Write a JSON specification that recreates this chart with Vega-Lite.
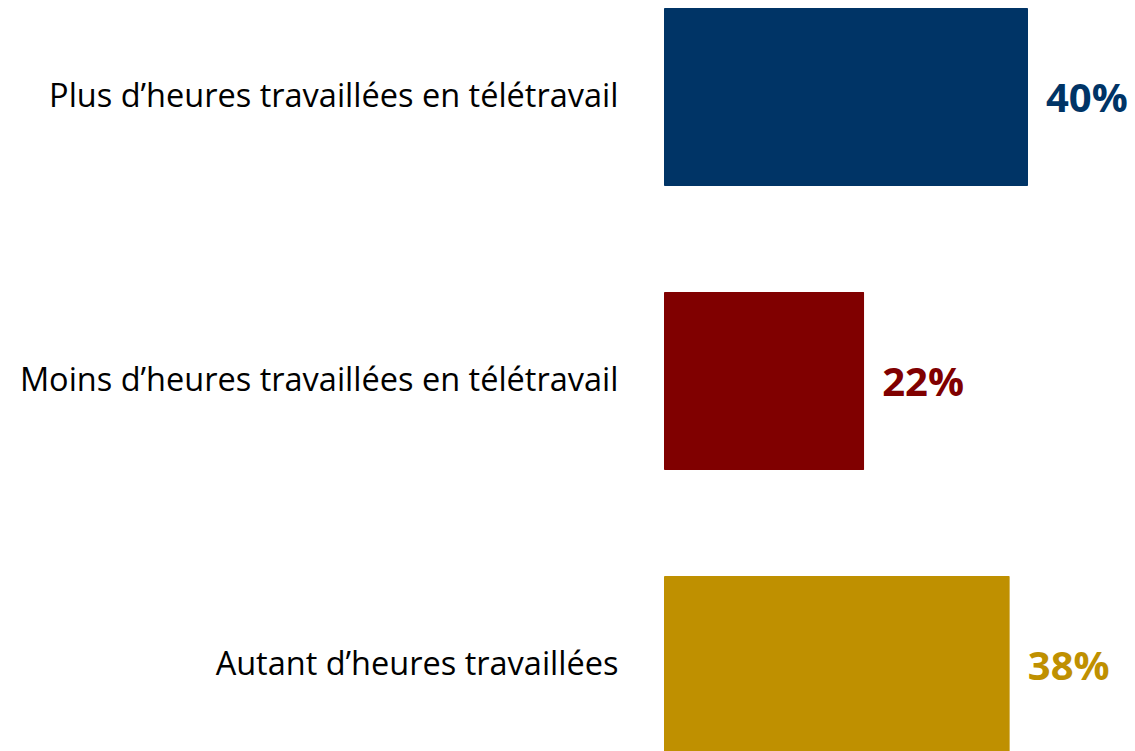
{
  "$schema": "https://vega.github.io/schema/vega-lite/v6.json",
  "autosize": "none",
  "width": 364,
  "height": 762,
  "padding": {"left": 664, "top": 0, "right": 107, "bottom": 0},
  "background": "white",
  "config": {"view": {"stroke": null}},
  "data": {
    "values": [
      {"categorie": "Plus d’heures travaillées en télétravail", "part": 40, "label": "40%"},
      {"categorie": "Moins d’heures travaillées en télétravail", "part": 22, "label": "22%"},
      {"categorie": "Autant d’heures travaillées", "part": 38, "label": "38%"}
    ]
  },
  "encoding": {
    "y": {
      "field": "categorie",
      "type": "nominal",
      "sort": null,
      "scale": {"paddingInner": 0.373, "paddingOuter": 0.028},
      "axis": {
        "title": null,
        "ticks": false,
        "domain": false,
        "labelFont": "Open Sans",
        "labelFontSize": 32.5,
        "labelColor": "#000000",
        "labelPadding": 46,
        "labelLimit": 700
      }
    },
    "x": {
      "field": "part",
      "type": "quantitative",
      "scale": {"domain": [0, 40], "nice": false},
      "axis": null
    },
    "color": {
      "field": "categorie",
      "type": "nominal",
      "sort": null,
      "scale": {
        "domain": ["Plus d’heures travaillées en télétravail", "Moins d’heures travaillées en télétravail", "Autant d’heures travaillées"],
        "range": ["#003466", "#800000", "#BF9000"]
      },
      "legend": null
    }
  },
  "layer": [
    {"mark": {"type": "bar", "cornerRadius": 1}},
    {
      "mark": {"type": "text", "align": "left", "baseline": "middle", "dx": 18, "dy": 3, "font": "Open Sans", "fontSize": 40, "fontWeight": "bold"},
      "encoding": {"text": {"field": "label"}}
    }
  ]
}
